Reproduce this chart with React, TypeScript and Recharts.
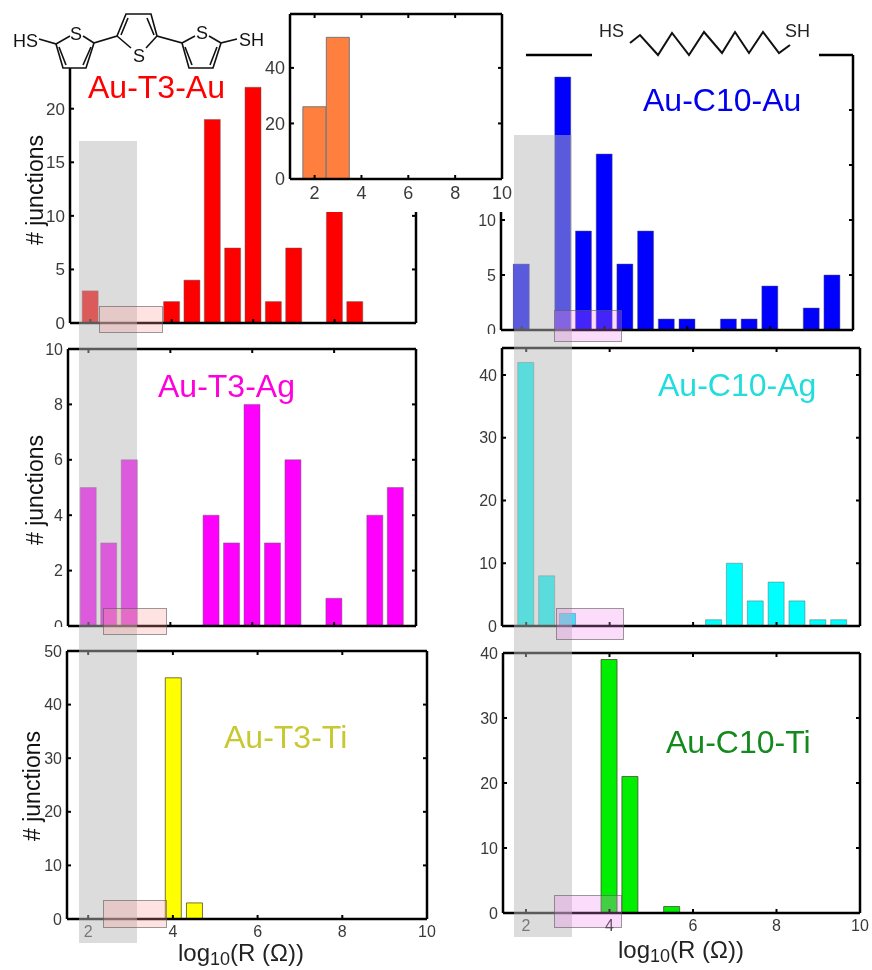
import { BarChart, Bar, XAxis, YAxis } from 'recharts';

const logTicks = [2, 4, 6, 8, 10];

// Counts, one list per junction type
const t3AuBins = [2, 4, 4.5, 5, 5.5, 6, 6.5, 7, 8, 8.5];
const t3AuCounts = [3, 2, 4, 19, 7, 22, 2, 7, 10.5, 2];
const t3AuTicks = [0, 5, 10, 15, 20];

const t3AgBins = [2, 2.5, 3, 5, 5.5, 6, 6.5, 7, 8, 9, 9.5];
const t3AgCounts = [5, 3, 6, 4, 3, 8, 3, 6, 1, 4, 5];
const t3AgTicks = [0, 2, 4, 6, 8, 10];

const t3TiBins = [4, 4.5];
const t3TiCounts = [45, 3];
const t3TiTicks = [0, 10, 20, 30, 40, 50];

const c10AuBins = [2, 3, 3.5, 4, 4.5, 5, 5.5, 6, 7, 7.5, 8, 9, 9.5];
const c10AuCounts = [6, 23, 9, 16, 6, 9, 1, 1, 1, 1, 4, 2, 5];
const c10AuTicks = [0, 5, 10, 15, 20, 25];

const c10AgBins = [2, 2.5, 3, 6.5, 7, 7.5, 8, 8.5, 9, 9.5];
const c10AgCounts = [42, 8, 2, 1, 10, 4, 7, 4, 1, 1];
const c10AgTicks = [0, 10, 20, 30, 40];

const c10TiBins = [4, 4.5, 5.5];
const c10TiCounts = [39, 21, 1];
const c10TiTicks = [0, 10, 20, 30, 40];

const insetBins = [2, 3];
const insetCounts = [26, 51];
const insetYTicks = [0, 20, 40];

const FONT = '"Liberation Sans", Arial, sans-serif';
const PAD = { left: 44, right: 26, top: 10, bottom: 30 };

type PanelProps = {
  bins: number[];
  counts: number[];
  yTicks: number[];
  xMin: number;
  yMax: number;
  fill: string;
  edge: string;
  box: [number, number, number, number]; // left, top, right, bottom of the plot on the page
  barSize?: number;
  fontSize?: number;
  xLabels?: boolean;
  topAxis?: boolean;
};

function Panel({ bins, counts, yTicks, xMin, yMax, fill, edge, box, barSize = 16, fontSize = 16, xLabels = false, topAxis = true }: PanelProps) {
  const [l, t, r, b] = box;
  const rows = bins.map((bin, i) => ({ bin, count: counts[i] }));
  const axis = { stroke: '#000', strokeWidth: 2.5 };
  const tickLine = { stroke: '#000', strokeWidth: 2 };
  const tick = { fill: '#3a3a3a', fontSize, fontFamily: FONT };
  const blank = () => '';
  return (
    <div style={{ position: 'absolute', left: l - PAD.left, top: t - PAD.top }}>
      <BarChart
        width={r - l + PAD.left + PAD.right}
        height={b - t + PAD.top + PAD.bottom}
        data={rows}
        // the top and right axes take 1px each, and an axis of size 0 is not drawn
        margin={{ top: topAxis ? PAD.top - 1 : PAD.top, right: PAD.right - 1, bottom: 0, left: 0 }}
      >
        <XAxis
          xAxisId="bottom"
          dataKey="bin"
          type="number"
          domain={[xMin, 10]}
          ticks={logTicks}
          interval={0}
          allowDataOverflow
          height={PAD.bottom}
          axisLine={axis}
          tickLine={tickLine}
          tickSize={-4}
          tickMargin={11}
          tick={tick}
          tickFormatter={xLabels ? undefined : blank}
        />
        {topAxis && (
          <XAxis
            xAxisId="top"
            orientation="top"
            dataKey="bin"
            type="number"
            domain={[xMin, 10]}
            ticks={logTicks}
            interval={0}
            allowDataOverflow
            height={1}
            axisLine={axis}
            tickLine={tickLine}
            tickSize={-4}
            tickFormatter={blank}
          />
        )}
        <YAxis
          yAxisId="left"
          type="number"
          domain={[0, yMax]}
          ticks={yTicks}
          interval={0}
          allowDataOverflow
          width={PAD.left}
          axisLine={axis}
          tickLine={tickLine}
          tickSize={-4}
          tickMargin={9}
          tick={tick}
        />
        <YAxis
          yAxisId="right"
          orientation="right"
          type="number"
          domain={[0, yMax]}
          ticks={yTicks}
          interval={0}
          allowDataOverflow
          width={1}
          axisLine={axis}
          tickLine={tickLine}
          tickSize={-4}
          tickFormatter={blank}
        />
        <Bar
          xAxisId="bottom"
          yAxisId="left"
          dataKey="count"
          fill={fill}
          stroke={edge}
          strokeWidth={1}
          barSize={barSize}
          isAnimationActive={false}
        />
      </BarChart>
    </div>
  );
}

function Mask({ x, y, w, h }: { x: number; y: number; w: number; h: number }) {
  return <div style={{ position: 'absolute', left: x, top: y, width: w, height: h, background: '#fff' }} />;
}

const softEdge = 'rgba(90,90,90,0.45)';
const darkEdge = 'rgba(70,70,40,0.75)';

const bandFill = 'rgba(183,183,183,0.49)';
const boxEdge = 'rgba(90,90,90,0.6)';
const pinkFill = 'rgba(255,150,150,0.28)';
const violetFill = 'rgba(240,130,240,0.28)';

function JunctionsLabel({ x, y }: { x: number; y: number }) {
  return (
    <text x={x} y={y} transform={`rotate(-90 ${x} ${y})`} textAnchor="middle" fontSize={23} fill="#111">
      # junctions
    </text>
  );
}

function LogLabel({ x, y }: { x: number; y: number }) {
  return (
    <text x={x} y={y} fontSize={24} fill="#222">
      log<tspan fontSize={18} dy={4}>10</tspan>
      <tspan dy={-4}>(R (Ω))</tspan>
    </text>
  );
}

function Terthiophene() {
  const line = { fill: 'none', stroke: '#111', strokeWidth: 1.6 };
  return (
    <g>
      <polyline {...line} points="39,39 56,44 63,68 86,68 94,43 117,36 126,14 151,14 157,36 182,43 189,68 213,68 221,43 237,39" />
      <polyline {...line} points="56,44 70,36" />
      <polyline {...line} points="94,43 83,36" />
      <polyline {...line} points="117,36 131,48" />
      <polyline {...line} points="157,36 146,48" />
      <polyline {...line} points="182,43 195,36" />
      <polyline {...line} points="221,43 209,36" />
      <polyline {...line} points="59,47 66,65" />
      <polyline {...line} points="91,47 83,65" />
      <polyline {...line} points="121,35 128,18" />
      <polyline {...line} points="154,35 147,18" />
      <polyline {...line} points="185,47 192,65" />
      <polyline {...line} points="217,47 210,65" />
      <text x={13} y={47} fontSize={18} fill="#111">HS</text>
      <text x={70} y={40} fontSize={18} fill="#111">S</text>
      <text x={133} y={62} fontSize={18} fill="#111">S</text>
      <text x={196} y={39} fontSize={18} fill="#111">S</text>
      <text x={239} y={46} fontSize={18} fill="#111">SH</text>
    </g>
  );
}

function Decanedithiol() {
  return (
    <g>
      <polyline
        fill="none"
        stroke="#111"
        strokeWidth={2}
        points="630,43 640,35 658,55 672,33 689,55 704,32 722,53 735,32 749,53 763,32 779,53 790,45"
      />
      <text x={599} y={37} fontSize={18} fill="#222">HS</text>
      <text x={785} y={37} fontSize={18} fill="#222">SH</text>
    </g>
  );
}

export default function App() {
  return (
    <div style={{ position: 'absolute', left: 0, top: 0, width: 872, height: 970, overflow: 'hidden', background: '#fff', fontFamily: FONT, filter: 'blur(0.4px)' }}>
      <Panel bins={t3AuBins} counts={t3AuCounts} yTicks={t3AuTicks} xMin={1.5} yMax={23.8} fill="#ff0000" edge={softEdge} box={[70, 68, 416, 323]} topAxis={false} fontSize={17} />
      <Panel bins={t3AgBins} counts={t3AgCounts} yTicks={t3AgTicks} xMin={1.5} yMax={10} fill="#ff00ff" edge={softEdge} box={[68, 349, 416, 626]} fontSize={16} />
      <Panel bins={t3TiBins} counts={t3TiCounts} yTicks={t3TiTicks} xMin={1.5} yMax={50} fill="#ffff00" edge={darkEdge} box={[67, 651, 427, 919]} xLabels fontSize={16} />
      <Panel bins={c10AuBins} counts={c10AuCounts} yTicks={c10AuTicks} xMin={1.5} yMax={25} fill="#0000ff" edge={softEdge} box={[501, 55, 853, 330]} fontSize={16} />
      <Panel bins={c10AgBins} counts={c10AgCounts} yTicks={c10AgTicks} xMin={1.42} yMax={44.3} fill="#00ffff" edge={softEdge} box={[502, 348, 860, 626]} fontSize={16} />
      <Panel bins={c10TiBins} counts={c10TiCounts} yTicks={c10TiTicks} xMin={1.45} yMax={40} fill="#00ee00" edge={darkEdge} box={[503, 653, 860, 913]} xLabels fontSize={16} />

      <Mask x={265} y={0} w={261} h={212} />
      <Mask x={592} y={0} w={227} h={59} />
      <Mask x={40} y={627} w={24} h={12} />
      <Mask x={480} y={334} w={19} h={12} />

      <Panel bins={insetBins} counts={insetCounts} yTicks={insetYTicks} xMin={0.95} yMax={59.4} fill="#ff7f3f" edge="#777" box={[290, 14, 502, 179]} barSize={23} xLabels fontSize={18} />

      <svg width={872} height={970} style={{ position: 'absolute', left: 0, top: 0 }} fontFamily={FONT}>
        <rect x={79} y={141} width={58} height={802} fill={bandFill} />
        <rect x={514} y={135} width={58} height={802} fill={bandFill} />

        <rect x={99.5} y={306.5} width={63} height={26} fill={pinkFill} stroke={boxEdge} />
        <rect x={103.5} y={608.5} width={63} height={26} fill={pinkFill} stroke={boxEdge} />
        <rect x={103.5} y={900.5} width={63} height={27} fill={pinkFill} stroke={boxEdge} />
        <rect x={554.5} y={310.5} width={67} height={31} fill={violetFill} stroke={boxEdge} />
        <rect x={556.5} y={608.5} width={67} height={31} fill={violetFill} stroke={boxEdge} />
        <rect x={554.5} y={895.5} width={67} height={32} fill={violetFill} stroke={boxEdge} />

        <text x={88} y={98} fontSize={32} fill="#ff0000">Au-T3-Au</text>
        <text x={158} y={397} fontSize={32} fill="#ff00dd">Au-T3-Ag</text>
        <text x={224} y={748} fontSize={32} fill="#c8c832">Au-T3-Ti</text>
        <text x={643} y={111} fontSize={32} fill="#0000ee">Au-C10-Au</text>
        <text x={658} y={396} fontSize={32} fill="#22dddd">Au-C10-Ag</text>
        <text x={666} y={753} fontSize={32} fill="#148a1e">Au-C10-Ti</text>

        <JunctionsLabel x={43} y={190} />
        <JunctionsLabel x={43} y={490} />
        <JunctionsLabel x={40} y={786} />
        <LogLabel x={178} y={961} />
        <LogLabel x={618} y={958} />

        <Terthiophene />
        <Decanedithiol />
      </svg>
    </div>
  );
}
